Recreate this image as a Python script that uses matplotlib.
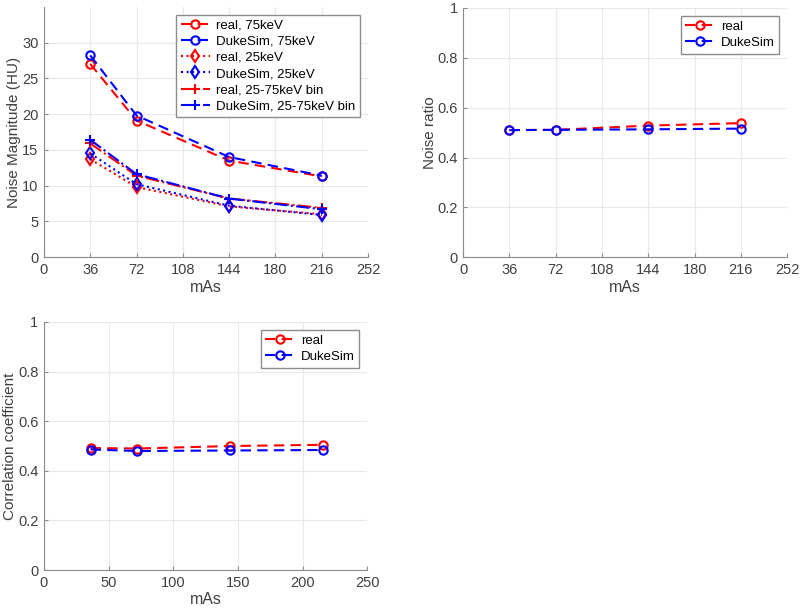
# Noise magnitude / noise ratio / correlation: real vs DukeSim

import numpy as np
import matplotlib.pyplot as plt

plt.rcParams['font.family'] = ['Liberation Sans', 'DejaVu Sans']

mas = [36, 72, 144, 216]

# Noise magnitude (HU)
real_75 = [27.0, 19.1, 13.5, 11.3]
duke_75 = [28.2, 19.8, 14.0, 11.4]
real_25 = [13.7, 9.8, 7.1, 6.0]
duke_25 = [14.5, 10.2, 7.2, 5.9]
real_bin = [15.9, 11.4, 8.2, 6.9]
duke_bin = [16.4, 11.6, 8.2, 6.7]

# Noise ratio
real_ratio = [0.510, 0.511, 0.528, 0.538]
duke_ratio = [0.510, 0.511, 0.513, 0.516]

# Correlation coefficient
real_corr = [0.492, 0.490, 0.500, 0.505]
duke_corr = [0.486, 0.480, 0.482, 0.484]

grey = '#404040'
dash = (0, (5, 3))


def style_axes(ax, ylabel):
    ax.grid(True, color='#e8e8e8', linewidth=0.8)
    ax.set_axisbelow(True)
    for s in ['top', 'right']:
        ax.spines[s].set_visible(False)
    for s in ['left', 'bottom']:
        ax.spines[s].set_color('#8c8c8c')
    ax.tick_params(direction='in', length=3, colors='#8c8c8c',
                   labelcolor=grey, labelsize=10.5, pad=4)
    ax.set_xlabel('mAs', fontsize=11.5, color=grey, labelpad=2)
    ax.set_ylabel(ylabel, fontsize=11, color=grey, labelpad=0.5)


def legend(ax):
    leg = ax.legend(loc='upper right', fontsize=9.5, handlelength=2.2,
                    fancybox=False, framealpha=1, borderpad=0.35,
                    labelspacing=0.3, handletextpad=0.5, borderaxespad=0.6)
    leg.get_frame().set_edgecolor('#8c8c8c')
    leg.get_frame().set_linewidth(1.0)
    return leg


fig = plt.figure(figsize=(8, 6.11), dpi=100)

# Panel 1
ax1 = fig.add_axes([0.055, 0.579, 0.405, 0.41])
ax1.plot(mas, real_75, color='red', ls=dash, marker='o', mfc='none', ms=6, lw=1.5, mew=1.5, label='real, 75keV')
ax1.plot(mas, duke_75, color='blue', ls=dash, marker='o', mfc='none', ms=6, lw=1.5, mew=1.5, label='DukeSim, 75keV')
ax1.plot(mas, real_25, color='red', ls=':', marker='d', mfc='none', ms=6, lw=1.5, mew=1.5, label='real, 25keV')
ax1.plot(mas, duke_25, color='blue', ls=':', marker='d', mfc='none', ms=6, lw=1.5, mew=1.5, label='DukeSim, 25keV')
ax1.plot(mas, real_bin, color='red', ls='-.', marker='+', ms=7, lw=1.5, mew=1.5, label='real, 25-75keV bin')
ax1.plot(mas, duke_bin, color='blue', ls='-.', marker='+', ms=7, lw=1.5, mew=1.5, label='DukeSim, 25-75keV bin')
ax1.set_xlim(0, 252)
ax1.set_xticks(np.arange(0, 253, 36))
ax1.set_ylim(0, 35)
ax1.set_yticks(np.arange(0, 31, 5))
style_axes(ax1, 'Noise Magnitude (HU)')
legend(ax1)

# Panel 2
ax2 = fig.add_axes([0.579, 0.579, 0.405, 0.408])
ax2.plot(mas, real_ratio, color='red', ls=dash, marker='o', mfc='none', ms=6, lw=1.5, mew=1.5, label='real')
ax2.plot(mas, duke_ratio, color='blue', ls=dash, marker='o', mfc='none', ms=6, lw=1.5, mew=1.5, label='DukeSim')
ax2.set_xlim(0, 252)
ax2.set_xticks(np.arange(0, 253, 36))
ax2.set_ylim(0, 1)
ax2.set_yticks([0, 0.2, 0.4, 0.6, 0.8, 1])
ax2.set_yticklabels(['0', '0.2', '0.4', '0.6', '0.8', '1'])
style_axes(ax2, 'Noise ratio')
legend(ax2)

# Panel 3
ax3 = fig.add_axes([0.055, 0.067, 0.404, 0.406])
ax3.plot(mas, real_corr, color='red', ls=dash, marker='o', mfc='none', ms=6, lw=1.5, mew=1.5, label='real')
ax3.plot(mas, duke_corr, color='blue', ls=dash, marker='o', mfc='none', ms=6, lw=1.5, mew=1.5, label='DukeSim')
ax3.set_xlim(0, 250)
ax3.set_xticks(np.arange(0, 251, 50))
ax3.set_ylim(0, 1)
ax3.set_yticks([0, 0.2, 0.4, 0.6, 0.8, 1])
ax3.set_yticklabels(['0', '0.2', '0.4', '0.6', '0.8', '1'])
style_axes(ax3, 'Correlation coefficient')
legend(ax3)

fig.savefig('out.png', dpi=100)
